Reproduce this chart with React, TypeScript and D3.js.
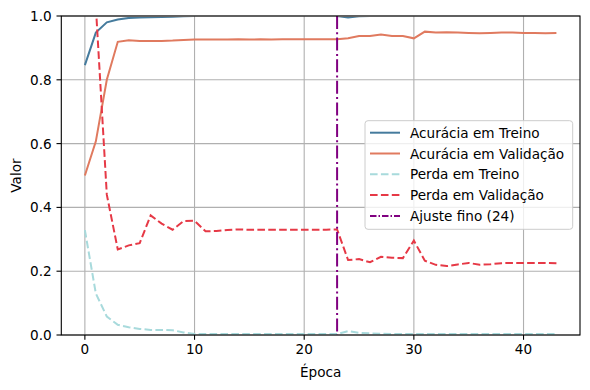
import React from "react";
import * as d3 from "d3";

const xTicks = [0, 10, 20, 30, 40];
const yTicks = [0, 0.2, 0.4, 0.6, 0.8, 1.0];
const fineTuneEpoch = 23;
const fineTuneLabel = "Ajuste fino (24)";

const trainAcc = [
  0.846, 0.948, 0.98, 0.989, 0.994, 0.995, 0.996, 0.997, 0.998, 0.999,
  1.0, 1.0, 1.0, 1.0, 1.0, 1.0, 1.0, 1.0, 1.0, 1.0, 1.0, 1.0, 1.0, 1.0,
  0.995, 0.999,
  1.0, 1.0, 1.0, 1.0, 1.0, 1.0, 1.0, 1.0, 1.0, 1.0, 1.0, 1.0, 1.0, 1.0, 1.0, 1.0, 1.0, 1.0,
];
const valAcc = [
  0.5, 0.607, 0.8, 0.919, 0.924, 0.922, 0.922, 0.922, 0.923, 0.925,
  0.926, 0.926, 0.926, 0.926, 0.927, 0.926, 0.927, 0.926, 0.927, 0.927,
  0.927, 0.927, 0.927, 0.927, 0.93, 0.937, 0.937, 0.942, 0.937, 0.937,
  0.93, 0.951, 0.948, 0.949, 0.948, 0.947, 0.946, 0.947, 0.948, 0.948,
  0.947, 0.947, 0.946, 0.947,
];
const trainLoss = [
  0.329, 0.13, 0.058, 0.032, 0.024, 0.019, 0.016, 0.016, 0.015, 0.008,
  0.003, 0.003, 0.003, 0.003, 0.003, 0.003, 0.003, 0.003, 0.003, 0.003,
  0.003, 0.003, 0.003, 0.003, 0.012, 0.007, 0.005, 0.004, 0.003, 0.003,
  0.003, 0.003, 0.003, 0.003, 0.003, 0.003, 0.003, 0.003, 0.003, 0.003,
  0.003, 0.003, 0.003, 0.003,
];
const valLoss = [
  1.4, 1.03, 0.44, 0.268, 0.281, 0.288, 0.375, 0.349, 0.33, 0.357,
  0.358, 0.325, 0.326, 0.329, 0.331, 0.33, 0.33, 0.33, 0.33, 0.33,
  0.33, 0.33, 0.33, 0.331, 0.235, 0.238, 0.228, 0.245, 0.242, 0.241,
  0.296, 0.233, 0.22, 0.216, 0.221, 0.226, 0.22, 0.222, 0.225, 0.226,
  0.226, 0.226, 0.226, 0.225,
];

const seriesNames = ["Acurácia em Treino", "Acurácia em Validação", "Perda em Treino", "Perda em Validação"];
const seriesColors = ["#457b9d", "#e07a5f", "#a8dadc", "#e63946"];
const seriesDash = ["", "", "7.6,3.3", "7.6,3.3"];
const seriesData = [trainAcc, valAcc, trainLoss, valLoss];
const fineTuneColor = "#800080";
const fineTuneDash = "13,3.3,2,3.3";

const W = 590, H = 390;
const L = 61.3, R = 580, T = 16, B = 335;
const FONT = "DejaVu Sans, sans-serif";

export default function App() {
  const n = trainAcc.length;
  const x = d3.scaleLinear().domain([-0.05 * (n - 1), (n - 1) * 1.05]).range([L, R]);
  const y = d3.scaleLinear().domain([0, 1]).range([B, T]);
  const line = d3
    .line<number>()
    .x((_, i) => x(i))
    .y((d) => y(d));

  const legX = 365, legY = 120.7, legW = 207.7, legH = 108.6;
  const rowY = (i: number) => legY + 12 + i * 20.8;
  const legendItems = [
    ...seriesNames.map((nm, i) => ({ name: nm, color: seriesColors[i], dash: seriesDash[i] })),
    { name: fineTuneLabel, color: fineTuneColor, dash: "6.5,2,1.5,2" },
  ];

  return (
    <svg width={W} height={H} style={{ position: "absolute", left: 0, top: 0, background: "#fff" }} fontFamily={FONT}>
      <defs>
        <clipPath id="plotclip">
          <rect x={L} y={T + 1} width={R - L} height={B - T - 1} />
        </clipPath>
      </defs>
      <rect x={0} y={0} width={W} height={H} fill="#fff" />
      {/* grid */}
      <g stroke="#b0b0b0" strokeWidth={1.1}>
        {xTicks.map((t) => (
          <line key={"gx" + t} x1={x(t)} x2={x(t)} y1={T} y2={B} />
        ))}
        {yTicks.map((t) => (
          <line key={"gy" + t} x1={L} x2={R} y1={y(t)} y2={y(t)} />
        ))}
      </g>
      {/* series */}
      <g clipPath="url(#plotclip)" fill="none">
        {seriesData.map((d, i) => (
          <path
            key={seriesNames[i]}
            d={line(d) || ""}
            stroke={seriesColors[i]}
            strokeWidth={2}
            strokeDasharray={seriesDash[i] || undefined}
          />
        ))}
      </g>
      <line
        x1={x(fineTuneEpoch)}
        x2={x(fineTuneEpoch)}
        y1={T}
        y2={B}
        stroke={fineTuneColor}
        strokeWidth={2}
        strokeDasharray={fineTuneDash}
      />
      {/* spines */}
      <rect x={L} y={T} width={R - L} height={B - T} fill="none" stroke="#000" strokeWidth={1.1} />
      {/* x ticks */}
      {xTicks.map((t) => (
        <g key={"xt" + t}>
          <line x1={x(t)} x2={x(t)} y1={B} y2={B + 4.8} stroke="#000" strokeWidth={1.1} />
          <text x={x(t)} y={B + 18.5} textAnchor="middle" fontSize={13.6} fill="#000">
            {t}
          </text>
        </g>
      ))}
      {/* y ticks */}
      {yTicks.map((t) => (
        <g key={"yt" + t}>
          <line x1={L - 4.8} x2={L} y1={y(t)} y2={y(t)} stroke="#000" strokeWidth={1.1} />
          <text x={L - 9.6} y={y(t) + 5} textAnchor="end" fontSize={13.6} fill="#000">
            {t.toFixed(1)}
          </text>
        </g>
      ))}
      <text x={(L + R) / 2} y={377} textAnchor="middle" fontSize={13.6} fill="#000">
        Época
      </text>
      <text
        transform={`translate(21, ${(T + B) / 2}) rotate(-90)`}
        textAnchor="middle"
        fontSize={13.6}
        fill="#000"
      >
        Valor
      </text>
      {/* legend */}
      <rect
        x={legX}
        y={legY}
        width={legW}
        height={legH}
        rx={3}
        fill="#fff"
        fillOpacity={0.8}
        stroke="#cccccc"
        strokeWidth={1}
      />
      {legendItems.map((it, i) => (
        <g key={it.name}>
          <line
            x1={370}
            x2={400}
            y1={rowY(i)}
            y2={rowY(i)}
            stroke={it.color}
            strokeWidth={2}
            strokeDasharray={it.dash || undefined}
          />
          <text x={410} y={rowY(i) + 5} fontSize={13.6} fill="#000">
            {it.name}
          </text>
        </g>
      ))}
    </svg>
  );
}
